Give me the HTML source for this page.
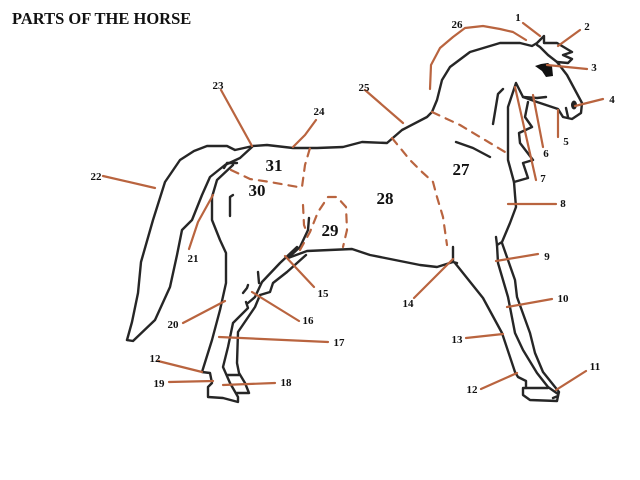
<!DOCTYPE html>
<html><head><meta charset="utf-8"><style>
html,body{margin:0;padding:0;background:#fff}
svg{display:block}
.k{fill:none;stroke:#262626;stroke-width:2.4;stroke-linejoin:round;stroke-linecap:round}
.r{fill:none;stroke:#b9643f;stroke-width:2.2;stroke-linecap:round;stroke-linejoin:round}
.d{stroke-dasharray:8 7}
text{font-family:"Liberation Serif",serif;text-anchor:middle;fill:#111}
.s{font-size:11px;font-weight:bold}
.b{font-size:17px;font-weight:bold}
</style></head><body>
<svg width="640" height="480" viewBox="0 0 640 480" xmlns="http://www.w3.org/2000/svg">
<rect width="640" height="480" fill="#fff"/>
<text x="12" y="24" style="text-anchor:start;font-size:16.5px;font-weight:bold">PARTS OF THE HORSE</text>

<!-- black outline -->
<path class="k" d="M127 340L132 322L138 293L141 262L153 220L165 182L180 160L194 151L207 146L227 146L235 150L253 146L267 145L293 148L317 148L343 147L362 142L387 143L402 130L427 117L432 112L437 100L442 80L450 67L470 52L500 43L520 43L532 46L537 43L544 36L544 43L557 43L572 52L563 55L572 59L568 63L557 62L567 75L582 103L581 113L572 119L563 117L558 109L537 102L523 97L516 83L508 107L508 160L514 182L515 195L516 207L510 223L502 242L497 245L496 237"/>
<path class="k" d="M540 47L548 55L557 62M537 45L540 47"/>
<path class="k" d="M528 102L525 117L532 127L519 133L520 143L533 160L523 163L528 178L514 182M523 97L537 98L546 97"/>
<path class="k" d="M503 89L498 94L493 124M456 142L473 148L490 157"/>
<path d="M535 66L541 64L548 63L552 66L553 76L546 77L542 71Z" fill="#111"/>
<ellipse cx="574" cy="105" rx="3" ry="4.5" fill="#222"/>
<path class="k" d="M566 108L568 117"/>
<!-- front legs -->
<path class="k" d="M497 245L498 263L508 297L515 333L523 350L537 373L548 387L558 394M502 243L515 280L517 297L530 333L535 353L543 372L559 392L558 396L553 398"/>
<path class="k" d="M523 388L548 388M523 388L523 395L530 400L557 401L558 396"/>
<path class="k" d="M526 388L526 381L518 377L515 372L502 333L483 298L455 263"/>
<path class="k" d="M288 258L307 251L352 249L370 255L420 265L437 267L453 262L457 263M453 247L453 262"/>
<!-- tail inner -->
<path class="k" d="M127 340L133 341L155 320L170 287L177 255L182 230L192 220L202 195L210 177L225 165L240 158L252 147"/>
<!-- hind leg -->
<path class="k" d="M237 163L227 163L224 168M233 165L217 180L212 197L212 220L220 240L226 253L226 283L220 310L212 340L202 372L210 373L212 383L208 387L208 397L223 398L238 402L238 397L230 383L223 367L228 347L233 323L248 308L246 302"/>
<path class="k" d="M230 216L230 197L233 195"/>
<path class="k" d="M259 283L258 272M297 247L280 263L262 282L255 297L248 303M306 255L287 272L273 283L270 292L260 295L255 307L238 332L237 363L239 373L245 383L249 393L237 393M227 375L239 375"/>
<path class="k" d="M248 285L247 288L243 293"/>
<path class="k" d="M309 218L308 230L300 247L288 258"/>

<!-- dashed -->
<path class="r d" d="M432 112L460 125L490 143L505 152"/>
<path class="r d" d="M231 170L250 179L270 182L298 187L302 187L305 165L310 148"/>
<path class="r d" d="M303 205L304 225L307 233"/>
<path class="r d" d="M300 250L310 232L318 212L328 197L337 197L346 207L347 230L343 247"/>
<path class="r d" d="M392 138L410 160L422 172L433 182L437 197L443 217L447 245"/>

<!-- red lines -->
<path class="r" d="M523 23L540 36M580 30L558 46M547 65L587 69M603 99L575 106M558 110L558 137M533 95L543 147M515 87L536 180M508 204L556 204M496 261L538 254M507 307L552 299M586 371L556 390M481 389L517 373M466 338L503 334M414 298L453 259M285 256L314 287M252 292L299 321M219 337L328 342M223 385L275 383M169 382L213 381M158 361L202 372M183 323L225 301M189 249L198 222L213 195M103 176L155 188M221 90L252 146M316 120L305 135L293 147M365 90L403 123"/>
<path class="r" d="M430 89L431 65L440 48L453 37L465 28L483 26L500 29L513 32L526 40"/>

<!-- labels -->
<g class="s">
<text class="s" x="518" y="21">1</text>
<text class="s" x="587" y="30">2</text>
<text class="s" x="594" y="71">3</text>
<text class="s" x="612" y="103">4</text>
<text class="s" x="566" y="145">5</text>
<text class="s" x="546" y="157">6</text>
<text class="s" x="543" y="182">7</text>
<text class="s" x="563" y="207">8</text>
<text class="s" x="547" y="260">9</text>
<text class="s" x="563" y="302">10</text>
<text class="s" x="595" y="370">11</text>
<text class="s" x="472" y="393">12</text>
<text class="s" x="457" y="343">13</text>
<text class="s" x="408" y="307">14</text>
<text class="s" x="323" y="297">15</text>
<text class="s" x="308" y="324">16</text>
<text class="s" x="339" y="346">17</text>
<text class="s" x="286" y="386">18</text>
<text class="s" x="159" y="387">19</text>
<text class="s" x="155" y="362">12</text>
<text class="s" x="173" y="328">20</text>
<text class="s" x="193" y="262">21</text>
<text class="s" x="96" y="180">22</text>
<text class="s" x="218" y="89">23</text>
<text class="s" x="319" y="115">24</text>
<text class="s" x="364" y="91">25</text>
<text class="s" x="457" y="28">26</text>
</g>
<text class="b" x="461" y="175">27</text>
<text class="b" x="385" y="204">28</text>
<text class="b" x="330" y="236">29</text>
<text class="b" x="257" y="196">30</text>
<text class="b" x="274" y="171">31</text>
</svg>
</body></html>
